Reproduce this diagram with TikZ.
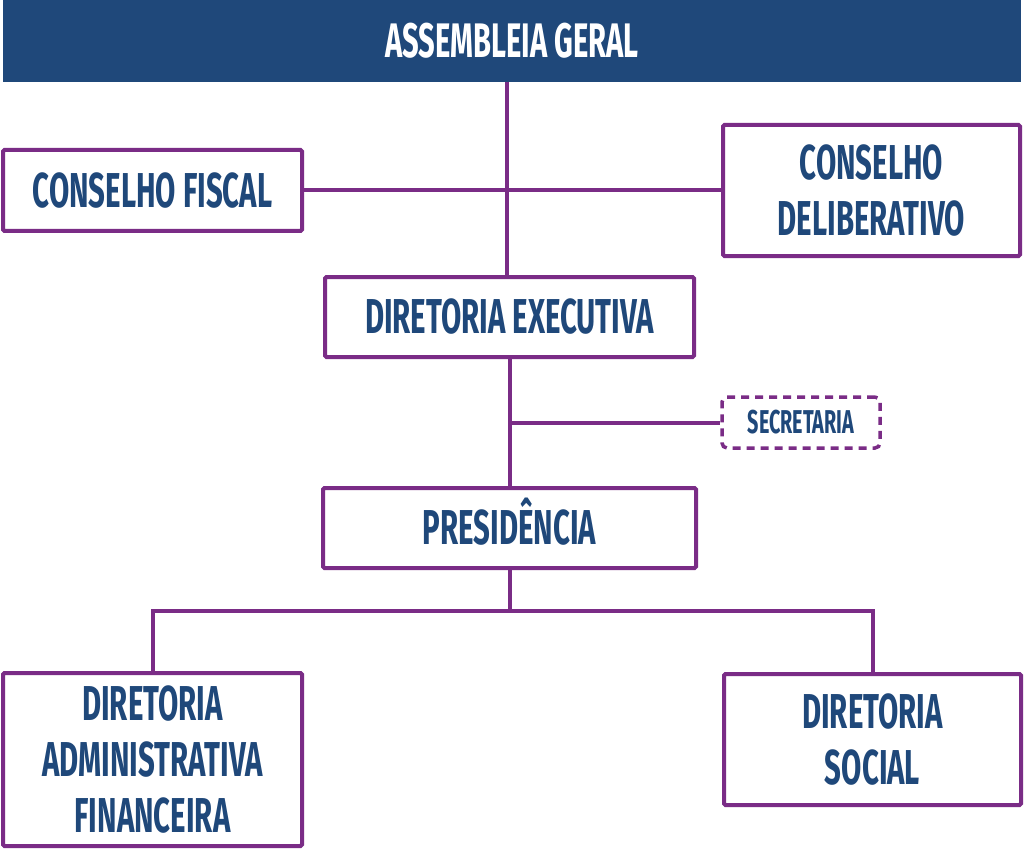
\documentclass[tikz,border=0pt]{standalone}
\usepackage{fontspec}
\newfontfamily\orgfont{Fira Sans}[FakeStretch=0.6]
\definecolor{orgblue}{RGB}{31,72,122}
\definecolor{orgpurple}{RGB}{122,44,134}
\tikzset{
  box/.style={draw=orgpurple, line width=4pt, fill=white, rounded corners=1.5pt,
    inner sep=0pt, align=center, text=orgblue,
    font=\orgfont\bfseries\fontsize{49}{56}\selectfont},
  secbox/.style={box, line width=3.5pt, rounded corners=5pt, dash pattern=on 8pt off 6pt,
    font=\orgfont\bfseries\fontsize{33}{40}\selectfont},
  topbar/.style={fill=orgblue, inner sep=0pt, text=white,
    font=\orgfont\bfseries\fontsize{48.5}{56}\selectfont},
  link/.style={draw=orgpurple, line width=4pt},
}
\begin{document}
\begin{tikzpicture}[x=1pt, y=-1pt]
\useasboundingbox (0,0) rectangle (1024,850);
\fill[white] (0,0) rectangle (1024,850);
\node[topbar, minimum width=1018pt, minimum height=82pt] (ag) at (512,41) {ASSEMBLEIA GERAL};
\node[box, minimum width=299pt, minimum height=81pt] (cf) at (152.5,190.5) {CONSELHO FISCAL};
\node[box, minimum width=297pt, minimum height=131pt] (cd) at (871.5,190.5) {CONSELHO\\DELIBERATIVO};
\node[box, minimum width=369pt, minimum height=80pt] (de) at (509.5,317) {DIRETORIA EXECUTIVA};
\node[secbox, minimum width=158pt, minimum height=51pt] (sec) at (801,422.5) {SECRETARIA};
\node[box, minimum width=373pt, minimum height=80pt] (pres) at (509.5,528) {PRESID\smash{Ê}NCIA};
\node[box, minimum width=299pt, minimum height=173pt] (daf) at (152.5,759.5) {DIRETORIA\\ADMINISTRATIVA\\FINANCEIRA};
\node[box, minimum width=297pt, minimum height=131pt] (ds) at (872.5,739.5) {DIRETORIA\\SOCIAL};
\coordinate (busy) at (0,611);
\coordinate (agx) at (507,0);
\draw[link] (agx |- de.north) -- (agx |- ag.south);
\draw[link] (cf.east) -- (cd.west);
\draw[link] (de.south) -- (pres.north);
\draw[link] (de.south |- sec.west) -- (sec.west);
\draw[link] (pres.south) -- (pres.south |- busy);
\draw[link] (daf.north) |- (pres.south |- busy) -| (ds.north);
\end{tikzpicture}
\end{document}
